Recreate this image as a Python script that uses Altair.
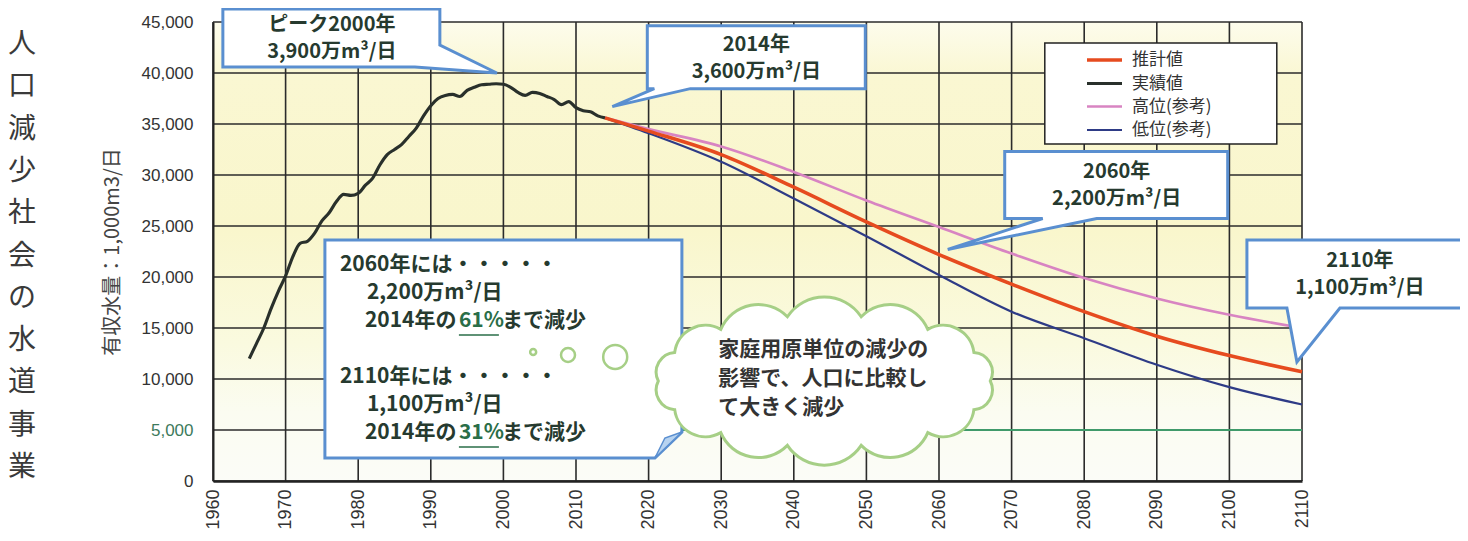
import math
import altair as alt
import pandas as pd

# ---------------- data ----------------
x_ticks = list(range(1960, 2111, 10))
y_ticks = list(range(0, 45001, 5000))

actual_years = list(range(1965, 2015))
actual_vals = [12000, 13500, 15000, 16900, 18600, 20100, 22000, 23300, 23500, 24300,
               25500, 26300, 27400, 28100, 28000, 28200, 29000, 29700, 31000, 32000,
               32500, 33000, 33800, 34600, 35800, 36800, 37500, 37800, 37900, 37700,
               38300, 38600, 38850, 38900, 38950, 38900, 38600, 38100, 37800, 38100,
               38000, 37700, 37400, 36900, 37200, 36600, 36300, 36200, 35800, 35600]

proj_years = [2014, 2020, 2030, 2040, 2050, 2060, 2070, 2080, 2090, 2100, 2110]
est_vals = [35600, 34300, 32000, 28800, 25400, 22200, 19300, 16600, 14200, 12300, 10700]
high_vals = [35600, 34500, 32800, 30300, 27500, 24900, 22300, 19900, 17900, 16300, 15000]
low_vals = [35600, 34100, 31300, 27700, 24000, 20200, 16600, 14000, 11400, 9200, 7500]

series_names = ["推計値", "実績値", "高位(参考)", "低位(参考)"]
series_colors = ["#e64b1f", "#29302b", "#d884c2", "#2e3b86"]
series_widths = [3.6, 2.2, 1.3, 1.5]

green_years = [2020, 2110]
green_value = 5000

side_title = "人口減少社会の水道事業"
y_title = "有収水量：1,000m3/日"

JP = "Noto Sans CJK JP"
TXT = "#263a2f"
BLUE = "#5a8fd0"
GREEN = "#a6cf86"

XS = alt.Scale(domain=[x_ticks[0], x_ticks[-1]], nice=False, zero=False)
YS = alt.Scale(domain=[y_ticks[0], y_ticks[-1]], nice=False, zero=False)

X_AXIS = alt.Axis(values=x_ticks, format="d", labelAngle=-90, labelFont="Liberation Sans",
                  labelFontSize=18, labelColor="#333333", ticks=False, labelPadding=8,
                  grid=False, domainColor="#222222", domainWidth=2.5, title=None,
                  labelFlush=False, labelOverlap=False, zindex=1)
Y_AXIS = alt.Axis(values=y_ticks, format=",d", labelFont="Liberation Sans", labelFontSize=17,
                  labelColor={"expr": "datum.value == 5000 ? '#3d7a5c' : '#333333'"},
                  ticks=False, labelPadding=20, grid=False, domainColor="#222222",
                  domainWidth=2, title=y_title, titleFont=JP, titleFontSize=20,
                  titleFontWeight="normal", titleColor="#444444", titlePadding=19,
                  labelFlush=False, labelOverlap=False, zindex=1)


def ex(field="x"):
    return alt.X(f"{field}:Q", scale=XS, axis=X_AXIS)


def ey(field="y"):
    return alt.Y(f"{field}:Q", scale=YS, axis=Y_AXIS)


# ---------------- background ----------------
bg_df = pd.DataFrame({"x": [x_ticks[0]], "x2": [x_ticks[-1]],
                      "y": [y_ticks[0]], "y2": [y_ticks[-1]]})
bg = alt.Chart(bg_df).mark_rect(
    color=alt.LinearGradient(
        gradient="linear", x1=0, x2=0, y1=0, y2=1,
        stops=[alt.GradientStop(color="#fdfcec", offset=0),
               alt.GradientStop(color="#faf7d2", offset=0.12),
               alt.GradientStop(color="#f9f6cc", offset=0.45),
               alt.GradientStop(color="#fafadf", offset=0.7),
               alt.GradientStop(color="#fbfcf1", offset=0.85),
               alt.GradientStop(color="#fbfcf7", offset=1)])
).encode(x=ex("x"), x2="x2", y=ey("y"), y2="y2")

# ---------------- grid ----------------
vg_df = pd.DataFrame({"year": x_ticks, "lo": y_ticks[0], "hi": y_ticks[-1]})
vgrid = alt.Chart(vg_df).mark_rule(color="#2b2b2b", strokeWidth=1.6).encode(
    x=ex("year"), y=ey("lo"), y2="hi")

hg_df = pd.DataFrame({"v": y_ticks, "lo": x_ticks[0], "hi": x_ticks[-1]})
hgrid = alt.Chart(hg_df).mark_rule(color="#2b2b2b", strokeWidth=1.6).encode(
    y=ey("v"), x=ex("lo"), x2="hi")

gr_df = pd.DataFrame({"x": [green_years[0]], "x2": [green_years[1]], "y": [green_value]})
green_rule = alt.Chart(gr_df).mark_rule(color="#3f9a6a", strokeWidth=1.8).encode(
    x=ex("x"), x2="x2", y=ey("y"))

# ---------------- lines ----------------
rows = []
for y, v in zip(proj_years, high_vals):
    rows.append({"series": series_names[2], "year": y, "value": v})
for y, v in zip(proj_years, low_vals):
    rows.append({"series": series_names[3], "year": y, "value": v})
for y, v in zip(actual_years, actual_vals):
    rows.append({"series": series_names[1], "year": y, "value": v})
for y, v in zip(proj_years, est_vals):
    rows.append({"series": series_names[0], "year": y, "value": v})
lines_df = pd.DataFrame(rows)

legend_props = dict(
    orient="none", legendX=832, legendY=21, title=None,
    symbolType="M -1.75 0 L 1.75 0", symbolSize=400, symbolOffset=42.5, labelOffset=15.5,
    labelFont=JP, labelFontSize=17, labelColor="#333333", rowPadding=3.5, padding=5)

lines = alt.Chart(lines_df).mark_line(interpolate="monotone").encode(
    x=ex("year"), y=ey("value"),
    color=alt.Color("series:N", scale=alt.Scale(domain=series_names, range=series_colors),
                    legend=alt.Legend(**legend_props)),
    strokeWidth=alt.StrokeWidth("series:N",
                                scale=alt.Scale(domain=series_names, range=series_widths),
                                legend=alt.Legend(**legend_props)),
)


# ---------------- annotation helpers ----------------
def shape(ax, ay, path, fill, stroke, sw, filled=True):
    df = pd.DataFrame({"x": [ax], "y": [ay]})
    kw = dict(shape=path, size=4, stroke=stroke, strokeWidth=sw, opacity=1, filled=filled)
    if filled:
        kw["fill"] = fill
        kw["fillOpacity"] = 1
    return alt.Chart(df).mark_point(**kw).encode(x=ex("x"), y=ey("y"))


def label(ax, ay, text, dx, dy, size=20, color=TXT, align="center", weight="bold"):
    df = pd.DataFrame({"x": [ax], "y": [ay], "t": [text]})
    return alt.Chart(df).mark_text(dx=dx, dy=dy, align=align, baseline="middle", font=JP,
                                   fontSize=size, fontWeight=weight, color=color).encode(
        x=ex("x"), y=ey("y"), text="t:N")


def bubble(ax, ay, size):
    df = pd.DataFrame({"x": [ax], "y": [ay]})
    return alt.Chart(df).mark_point(shape="circle", size=size, filled=True, fill="white",
                                    fillOpacity=1, stroke=GREEN, strokeWidth=2.5,
                                    opacity=1).encode(x=ex("x"), y=ey("y"))


def cloud_path(a, b, n, k):
    pts = []
    for i in range(n):
        th = math.pi + 2 * math.pi * i / n
        pts.append((a * math.cos(th), b * math.sin(th)))
    d = f"M {pts[0][0]:.1f} {pts[0][1]:.1f} "
    for i in range(n):
        p1, p2 = pts[i], pts[(i + 1) % n]
        r = k * math.dist(p1, p2)
        d += f"A {r:.1f} {r:.1f} 0 0 1 {p2[0]:.1f} {p2[1]:.1f} "
    return d + "Z"


# legend frame (box behind the legend entries)
legend_box = shape(2090, 40000, "M -112 -30 H 120 V 71 H -112 Z", "white", "#222222", 1.5)

layers = [bg, vgrid, hgrid, green_rule, legend_box, lines]

# callout 1: peak 2000
a1 = (1999.1, 40000)
layers += [shape(*a1, "M -274 -64 H -57 V -28 L 0 0 L -82 -6 H -274 Z", "white", BLUE, 3),
           label(*a1, "ピーク2000年", -165, -48),
           label(*a1, "3,900万m³/日", -165, -21)]
# callout 2: 2014
a2 = (2015, 36700)
layers += [shape(*a2, "M 35 -81 H 253 V -18 H 78 L 0 0 L 42 -18 H 35 Z", "white", BLUE, 3),
           label(*a2, "2014年", 144, -62),
           label(*a2, "3,600万m³/日", 144, -35)]
# callout 3: 2060
a3 = (2061.2, 22700)
layers += [shape(*a3, "M 57 -98 H 280 V -31 H 149 L 0 0 L 95 -31 H 57 Z", "white", BLUE, 3),
           label(*a3, "2060年", 169, -77),
           label(*a3, "2,200万m³/日", 169, -50)]
# callout 4: 2110
a4 = (2109.3, 11670)
layers += [shape(*a4, "M -50 -122 H 183 V -54 H 43 L 0 0 L -10 -54 H -50 Z", "white", BLUE, 3),
           label(*a4, "2110年", 63, -101),
           label(*a4, "1,100万m³/日", 63, -74)]
# callout 5: summary box
a5 = (2025, 5000)
PCT = "#2a6e48"
layers += [shape(*a5, "M -360 -190 H -3 V 2 L -30 28 H -360 Z", "white", BLUE, 3),
           shape(*a5, "M -3 2 L -30 28 L -20 8 Z", "#b7d3f0", BLUE, 1.5),
           label(*a5, "2060年には・・・・・", -345, -165, align="left", size=21),
           label(*a5, "2,200万m³/日", -318, -137, align="left", size=21),
           label(*a5, "2014年の", -320, -109, align="left", size=21),
           label(*a5, "61%", -226, -109, align="left", color=PCT, size=21),
           label(*a5, "まで減少", -183, -109, align="left", size=21),
           shape(*a5, "M -226 -95 L -186 -95", "white", PCT, 1.6, filled=False),
           label(*a5, "2110年には・・・・・", -345, -53, align="left", size=21),
           label(*a5, "1,100万m³/日", -318, -25, align="left", size=21),
           label(*a5, "2014年の", -320, 3, align="left", size=21),
           label(*a5, "31%", -226, 3, align="left", color=PCT, size=21),
           label(*a5, "まで減少", -183, 3, align="left", size=21),
           shape(*a5, "M -226 17 L -186 17", "white", PCT, 1.6, filled=False)]

# thought bubbles and cloud
layers += [bubble(2004.1, 12650, 36), bubble(2008.9, 12350, 196), bubble(2015.4, 12160, 576)]
ac = (2044.2, 9800)
layers += [shape(*ac, cloud_path(166, 66, 14, 0.6), "white", GREEN, 3),
           label(*ac, "家庭用原単位の減少の", -106, -31, align="left", size=21, color="#333333"),
           label(*ac, "影響で、人口に比較し", -106, -2, align="left", size=21, color="#333333"),
           label(*ac, "て大きく減少", -106, 27, align="left", size=21, color="#333333")]

# vertical side title
st_df = pd.DataFrame({"x": [1933.7], "y": [42745], "t": ["\n".join(side_title)]})
side = alt.Chart(st_df).mark_text(lineBreak="\n", lineHeight=42.3, font=JP, fontSize=28,
                                  color="#3a3a3a", align="center", baseline="middle").encode(
    x=ex("x"), y=ey("y"), text="t:N")
layers.append(side)

chart = alt.layer(*layers).properties(
    width=1089, height=459,
    autosize=alt.AutoSizeParams(type="none"),
    padding={"left": 205, "top": 14, "right": 158, "bottom": 52},
).configure_view(strokeWidth=0)

chart.save("out.html", embed_options={"renderer": "svg", "actions": False})
